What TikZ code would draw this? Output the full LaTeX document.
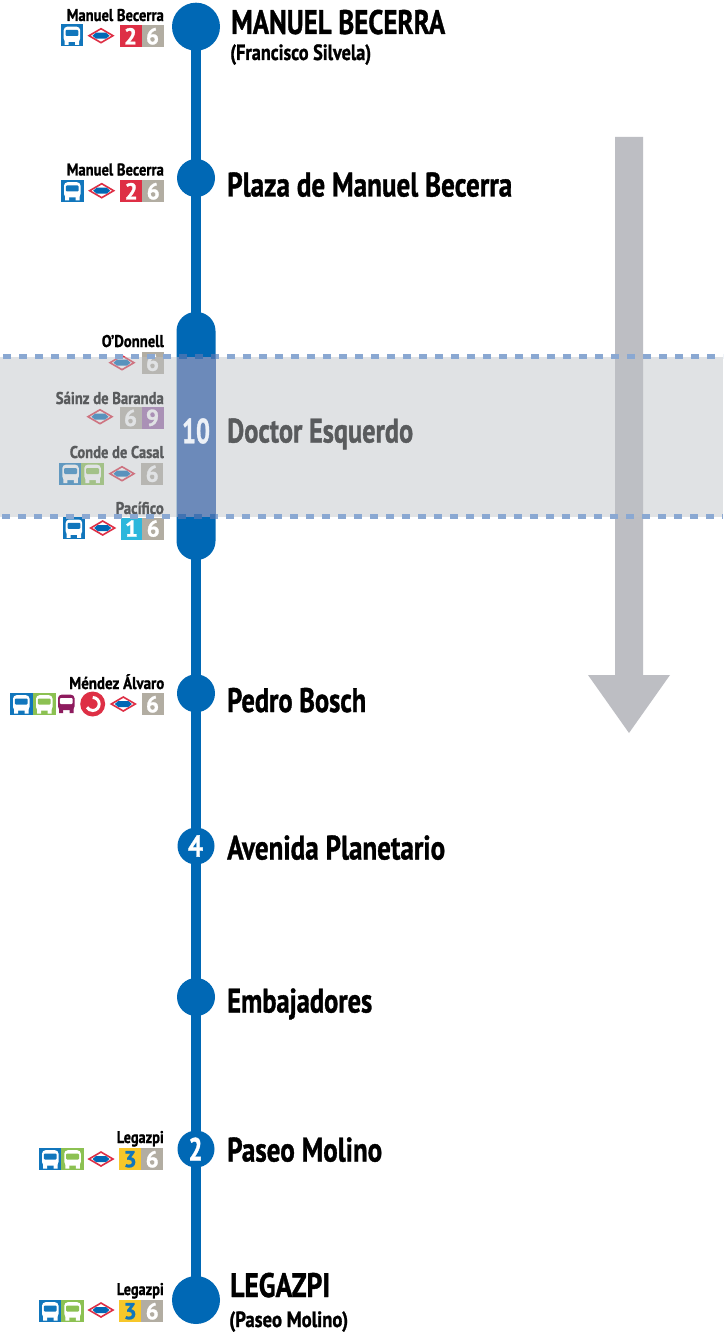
\documentclass[tikz,border=0pt]{standalone}
\usepackage{fontspec}
\usepackage{graphicx}
\setmainfont{PT Sans}[BoldFont={PT Sans Bold},BoldFeatures={FakeBold=1.2}]
\usetikzlibrary{shapes.geometric}
\definecolor{lineblue}{HTML}{0068B5}
\definecolor{busblue}{HTML}{1176BC}
\definecolor{busgreen}{HTML}{8CC152}
\definecolor{burg}{HTML}{8E1B5E}
\definecolor{redl}{HTML}{DE2F45}
\definecolor{tan6}{HTML}{B2ADA2}
\definecolor{cyan1}{HTML}{2DB7DC}
\definecolor{yel3}{HTML}{F7C72A}
\definecolor{purp9}{HTML}{9A66A8}
\definecolor{arrowgray}{HTML}{BDBEC3}
\definecolor{dashblue}{HTML}{8AA8D2}
\definecolor{veil}{RGB}{190,194,198}
\definecolor{blockveil}{HTML}{6C8ABA}
\definecolor{dashdark}{HTML}{3F72B2}
\newcommand\fitw[2]{\resizebox{#1pt}{\height}{#2}}
\tikzset{
 x=1pt,y=-1pt,
 stopbig/.style={circle,fill=lineblue,draw=none,minimum size=48pt,inner sep=0},
 stopmid/.style={circle,fill=lineblue,draw=none,minimum size=38pt,inner sep=0,text=white,font=\bfseries\fontsize{28}{28}\selectfont},
 title/.style={anchor=base west,inner sep=0,font=\bfseries\fontsize{34}{34}\selectfont,text=black},
 subtitle/.style={anchor=base west,inner sep=0,font=\bfseries\fontsize{22}{22}\selectfont,text=black},
 small/.style={anchor=base east,inner sep=0,font=\bfseries\fontsize{17}{17}\selectfont,text=black},
 tile/.style={anchor=north west,inner sep=0,minimum width=22pt,minimum height=22pt,text=white,font=\bfseries\fontsize{23}{23}\selectfont},
 trunk/.style={lineblue,line width=10pt,shorten >=-5pt,shorten <=-5pt},
}
\newcommand\busglyph[4]{% x y fg bg
 \begin{scope}[shift={(#1,#2)}]
 \fill[#3,rounded corners=3.5pt] (3,2.2) rectangle (19.5,17.5);
 \fill[#3] (4,16) rectangle (8,20.5) (14.5,16) rectangle (18.5,20.5);
 \fill[#4,rounded corners=1pt] (4.8,5.5) rectangle (17.7,11.5);
 \end{scope}}
\newcommand\bus[3]{% x y colour
 \fill[#3] (#1,#2) rectangle ++(22.5,22);
 \busglyph{#1}{#2}{white}{#3}}
\newcommand\metro[2]{% centre
 \begin{scope}[shift={(#1,#2)}]
 \fill[white,draw=redl,line width=1.6pt] (-12,0) -- (0,-7) -- (12,0) -- (0,7) -- cycle;
 \fill[lineblue] (-8.5,0) -- (-5,-3) -- (5,-3) -- (8.5,0) -- (5,3) -- (-5,3) -- cycle;
 \end{scope}}
\begin{document}
\begin{tikzpicture}
\useasboundingbox (0,0) rectangle (723,1332);
\fill[white] (0,0) rectangle (723,1332);

% grey direction arrow
\fill[arrowgray] (615,137) -- (643,137) -- (643,675) -- (670,675) -- (629,733) -- (588,675) -- (615,675) -- cycle;

% stops
\node[stopbig] (s1) at (196,26.7) {};
\node[stopmid] (s2) at (196,178) {};
\node[draw=none,fill=lineblue,rounded corners=19pt,minimum width=39pt,minimum height=248pt,inner sep=0] (s3) at (196,436) {};
\node[stopmid] (s4) at (196,693.3) {};
\node[stopmid,minimum size=37pt] (s5) at (196,846) {};
\node[stopmid] (s6) at (196,997) {};
\node[stopmid,minimum size=37pt] (s7) at (196,1149) {};
\node[stopbig] (s8) at (196,1300) {};
\draw[trunk] (s1) -- (s2);
\draw[trunk] (s2) -- (s3);
\draw[trunk] (s3) -- (s4);
\draw[trunk] (s4) -- (s5);
\draw[trunk] (s5) -- (s6);
\draw[trunk] (s6) -- (s7);
\draw[trunk] (s7) -- (s8);
\node[text=white,inner sep=0,font=\bfseries\fontsize{30}{30}\selectfont] (n4) at (195.5,846) {\fitw{15}{4}};
\node[text=white,inner sep=0,font=\bfseries\fontsize{32}{32}\selectfont] (n2) at (195.5,1149) {\fitw{14}{2}};

% titles
\node[title] (t1) at (231,34) {\fitw{214}{MANUEL BECERRA}};
\node[subtitle] (t1b) at (230,60) {\fitw{141}{(Francisco Silvela)}};
\node[title] (t2) at (227,196.5) {\fitw{285}{Plaza de Manuel Becerra}};
\node[title] (t3) at (227,442.5) {\fitw{186}{Doctor Esquerdo}};
\node[title] (t4) at (227,712) {\fitw{139}{Pedro Bosch}};
\node[title] (t5) at (227,859.5) {\fitw{218}{Avenida Planetario}};
\node[title] (t6) at (227,1012.5) {\fitw{145}{Embajadores}};
\node[title] (t7) at (227,1161.5) {\fitw{155}{Paseo Molino}};
\node[title] (t8) at (230,1297) {\fitw{100}{LEGAZPI}};
\node[subtitle] (t8b) at (229,1327) {\fitw{119}{(Paseo Molino)}};

% Manuel Becerra 1
\node[small] (l1) at (164,21) {\fitw{97}{Manuel Becerra}};
\bus{60.7}{24.5}{busblue}
\metro{101}{35.7}
\node[tile,fill=redl] (a1) at (119.3,25) {2};
\node[tile,fill=tan6] (a2) at (141.3,25) {6};
% Manuel Becerra 2
\node[small] (l2) at (164,175.5) {\fitw{97}{Manuel Becerra}};
\bus{61}{180}{busblue}
\metro{101.7}{190.7}
\node[tile,fill=redl] (b1) at (120,180) {2};
\node[tile,fill=tan6] (b2) at (142,180) {6};
% O'Donnell
\node[small] (l3) at (164,347) {\fitw{62}{O’Donnell}};
\metro{122}{362.7}
\node[tile,fill=tan6] (c1) at (141.3,351.5) {6};
% Sainz de Baranda
\node[small] (l4) at (164,404) {\fitw{108}{Sáinz de Baranda}};
\metro{100}{416.7}
\node[tile,fill=tan6] (d1) at (119.3,406.7) {6};
\node[tile,fill=purp9] (d2) at (141.3,406.7) {9};
% Conde de Casal
\node[small] (l5) at (164,458) {\fitw{94}{Conde de Casal}};
\bus{59.3}{462.5}{busblue}
\bus{81.3}{462.5}{busgreen}
\metro{122}{473.7}
\node[tile,fill=tan6] (e1) at (141,462.5) {6};
% Pacifico
\node[small] (l6) at (164,514) {\fitw{48}{Pacífico}};
\bus{62.7}{517.3}{busblue}
\metro{102.7}{528}
\node[tile,fill=cyan1] (f1) at (120.3,517.3) {1};
\node[tile,fill=tan6] (f2) at (142,517.3) {6};
% Mendez Alvaro
\node[small] (l7) at (164.5,689) {\fitw{95}{Méndez Álvaro}};
\bus{10}{693}{busblue}
\bus{33}{693}{busgreen}
\busglyph{55}{692.5}{burg}{white}
\fill[redl] (92.7,704) circle (12.5);
\draw[white,line width=3pt] (92.7,697.5) arc[start angle=-90,end angle=150,radius=6.5];
\fill[redl] (92.7,704) circle (2.4);
\metro{123.3}{704}
\node[tile,fill=tan6] (g1) at (141.3,693) {6};
% Legazpi 1
\node[small] (l8) at (164,1143) {\fitw{47}{Legazpi}};
\bus{39}{1148}{busblue}
\bus{61.3}{1148}{busgreen}
\metro{101}{1159}
\node[tile,fill=yel3,text=busblue] (h1) at (119,1148) {3};
\node[tile,fill=tan6] (h2) at (141,1148) {6};
% Legazpi 2
\node[small] (l9) at (164,1295) {\fitw{47}{Legazpi}};
\bus{39}{1300}{busblue}
\bus{61.3}{1300}{busgreen}
\metro{101}{1310}
\node[tile,fill=yel3,text=busblue] (i1) at (119,1300) {3};
\node[tile,fill=tan6] (i2) at (141,1300) {6};

% translucent band
\fill[veil,opacity=.47] (0,356.7) rectangle (723,516.7);
\fill[blockveil] (176.5,356.7) rectangle (215.5,516.7);
\node[text=white!88!blockveil,inner sep=0,font=\bfseries\fontsize{35}{35}\selectfont] (ten) at (196,431) {\fitw{28}{10}};
\draw[dashblue,line width=4.8pt,dash pattern=on 8pt off 8pt,dash phase=13pt] (0,356.7) -- (723,356.7);
\draw[dashblue,line width=4.8pt,dash pattern=on 8pt off 8pt,dash phase=14pt] (0,516.7) -- (723,516.7);
\begin{scope}
\clip (176.5,340) rectangle (215.5,530);
\draw[dashdark,line width=4.8pt,dash pattern=on 8pt off 8pt,dash phase=13pt] (0,356.7) -- (723,356.7);
\draw[dashdark,line width=4.8pt,dash pattern=on 8pt off 8pt,dash phase=14pt] (0,516.7) -- (723,516.7);
\end{scope}
\end{tikzpicture}
\end{document}
